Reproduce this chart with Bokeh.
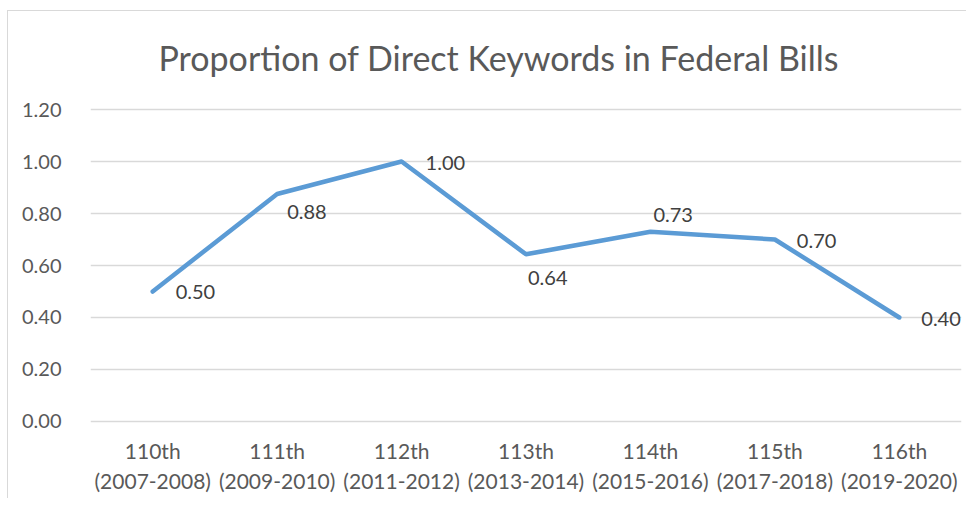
from bokeh.plotting import figure
from bokeh.models import (ColumnDataSource, FactorRange, Range1d, LabelSet,
                          NumeralTickFormatter, FixedTicker)
from bokeh.core.properties import value
from bokeh.embed import file_html
from bokeh.resources import INLINE

# ---- data ----
congress = ["110th", "111th", "112th", "113th", "114th", "115th", "116th"]
years = ["(2007-2008)", "(2009-2010)", "(2011-2012)", "(2013-2014)",
         "(2015-2016)", "(2017-2018)", "(2019-2020)"]
proportion = [0.50, 0.875, 1.00, 0.643, 0.73, 0.70, 0.40]
y_ticks = [0.0, 0.2, 0.4, 0.6, 0.8, 1.0, 1.2]

# ---- label placement styles (pixels) ----
label_dx = [23, 10, 24, 2, 3, 22, 22]
label_dy = [-1, -18, -1, -24, 17, -1, -2]

FONT = "Lato"
categories = [f"{c}\n{y}" for c, y in zip(congress, years)]

src = ColumnDataSource(dict(
    cat=categories,
    val=proportion,
    lab=[f"{v:.2f}" for v in proportion],
    dx=label_dx,
    dy=label_dy,
))

# thin light-grey chart-area border on the left and top (drawn behind a transparent canvas border)
border_css = ("linear-gradient(#D9D9D9,#D9D9D9) 7px 10px / 1px 100% no-repeat, "
              "linear-gradient(#D9D9D9,#D9D9D9) 7px 10px / 100% 1px no-repeat, white")

p = figure(
    width=966, height=498,
    x_range=FactorRange(*categories, range_padding=0),
    y_range=Range1d(-0.0077, 1.2077),
    output_backend="svg", toolbar_location=None,
    min_border_left=90, min_border_right=5,
    min_border_top=107, min_border_bottom=75,
    background_fill_color="white", border_fill_color=None,
    outline_line_color=None,
    title="Proportion of Direct Keywords in Federal Bills",
    styles={"background": border_css},
)

p.title.align = "left"
p.title.offset = 68
p.title.text_font = FONT
p.title.text_font_size = "34px"
p.title.text_font_style = "normal"
p.title.text_color = "#595959"
p.title.standoff = 59

p.line("cat", "val", source=src, line_color="#5B9BD5", line_width=4.5,
       line_join="round", line_cap="round")

labels = LabelSet(x="cat", y="val", text="lab", source=src,
                  x_offset="dx", y_offset="dy",
                  text_align="left", text_baseline="middle",
                  text_font=value(FONT), text_font_size=value("20px"),
                  text_color="#404040")
p.add_layout(labels)

# axes
p.yaxis.ticker = FixedTicker(ticks=y_ticks)
p.yaxis.formatter = NumeralTickFormatter(format="0.00")
for ax in (p.xaxis[0], p.yaxis[0]):
    ax.axis_line_color = None
    ax.major_tick_line_color = None
    ax.minor_tick_line_color = None
    ax.major_label_text_font = FONT
    ax.major_label_text_color = "#595959"
p.yaxis.major_label_text_font_size = "20px"
p.xaxis.major_label_text_font_size = "21px"
p.yaxis.major_label_standoff = 23
p.xaxis.major_label_standoff = 8

p.xgrid.grid_line_color = None
p.ygrid.ticker = FixedTicker(ticks=y_ticks)
p.ygrid.grid_line_color = "#D9D9D9"
p.ygrid.grid_line_width = 1.3

open("out.html", "w").write(file_html(p, INLINE))
